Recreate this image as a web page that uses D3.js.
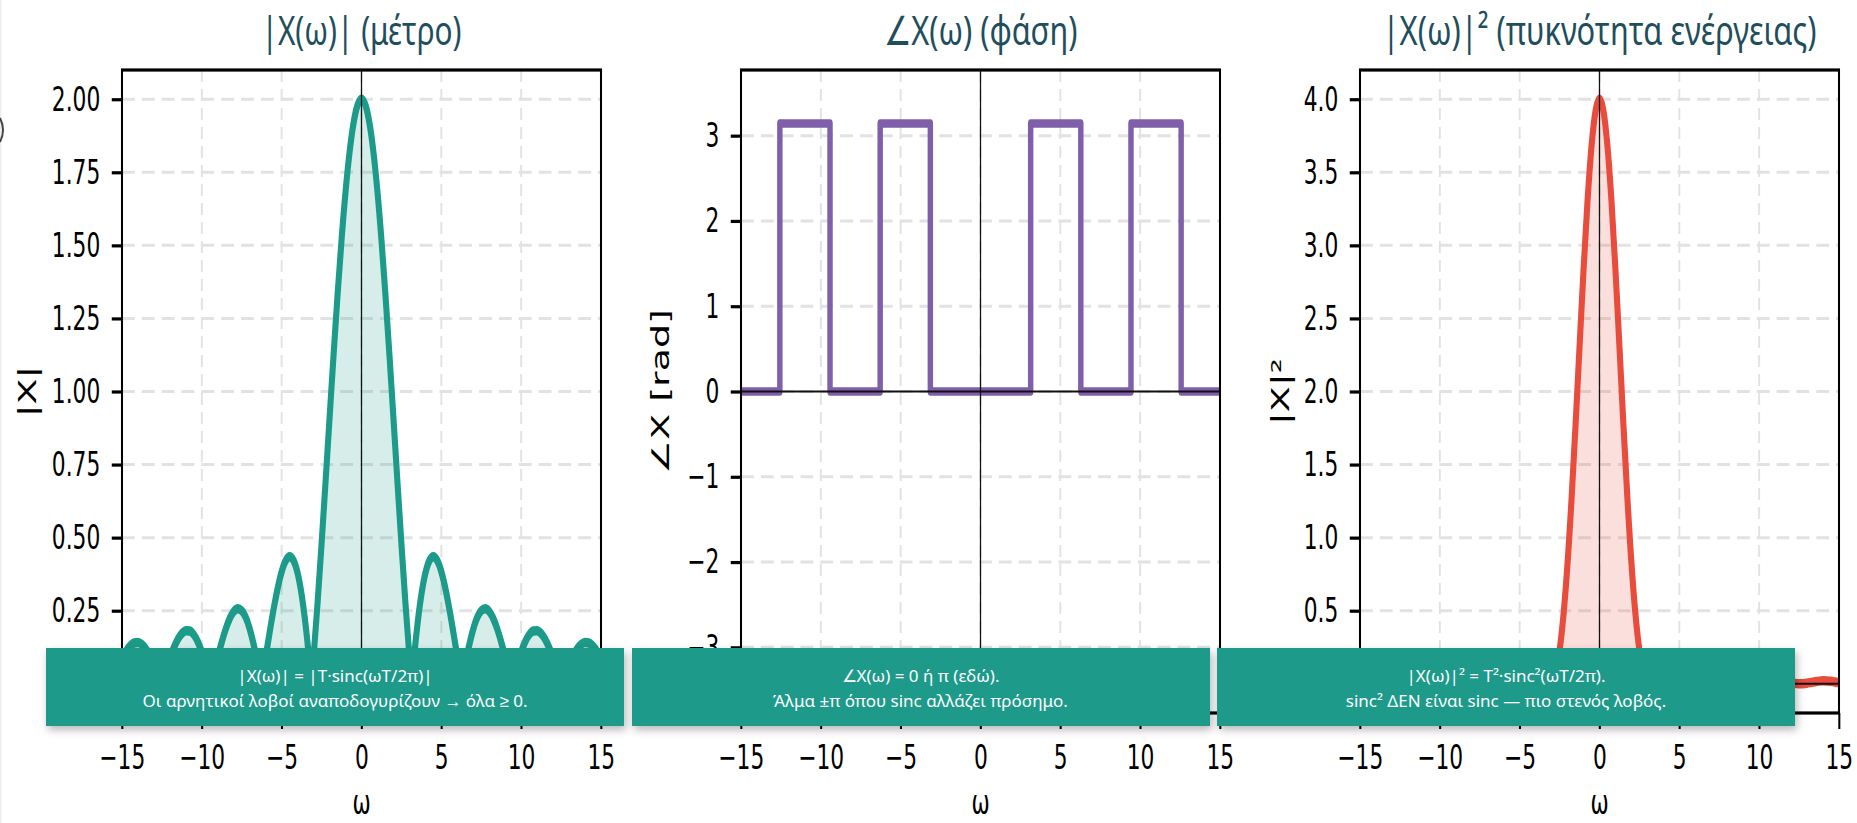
<!DOCTYPE html>
<html><head><meta charset="utf-8">
<script src="https://cdn.jsdelivr.net/npm/d3@7"></script>
<style>
html,body{margin:0;padding:0;background:#fff;width:1857px;height:823px;overflow:hidden;position:relative}
svg{position:absolute;left:0;top:0}
.note{position:absolute;top:648px;height:78px;width:578px;background:#1d9a8a;color:#fff;font-family:"Noto Sans",sans-serif;font-size:17px;line-height:25px;text-align:center;box-sizing:border-box;padding-top:15px;box-shadow:2px 4px 8px rgba(0,0,0,0.28);white-space:nowrap}
</style></head><body>
<svg id="chart" width="1857" height="823"></svg>
<script>
// ---------- data ----------
const omega = [-15,-14.75,-14.5,-14.25,-14,-13.75,-13.5,-13.25,-13,-12.75,-12.5664,-12.5,-12.25,-12,-11.75,-11.5,-11.25,-11,-10.75,-10.5,-10.25,-10,-9.75,-9.5,-9.4248,-9.25,-9,-8.75,-8.5,-8.25,-8,-7.75,-7.5,-7.25,-7,-6.75,-6.5,-6.2832,-6.25,-6,-5.75,-5.5,-5.25,-5,-4.75,-4.5,-4.25,-4,-3.75,-3.5,-3.25,-3.1416,-3,-2.75,-2.5,-2.25,-2,-1.75,-1.5,-1.25,-1,-0.75,-0.5,-0.25,
 0,0.25,0.5,0.75,1,1.25,1.5,1.75,2,2.25,2.5,2.75,3,3.1416,3.25,3.5,3.75,4,4.25,4.5,4.75,5,5.25,5.5,5.75,6,6.25,6.2832,6.5,6.75,7,7.25,7.5,7.75,8,8.25,8.5,8.75,9,9.25,9.4248,9.5,9.75,10,10.25,10.5,10.75,11,11.25,11.5,11.75,12,12.25,12.5,12.5664,12.75,13,13.25,13.5,13.75,14,14.25,14.5,14.75,15];
const magnitude = [0.0867,0.1109,0.1290,0.1395,0.1415,0.1347,0.1191,0.0953,0.0646,0.0286,0,0.0106,0.0508,0.0894,0.1240,0.1523,0.1721,0.1818,0.1805,0.1676,0.1434,0.1088,0.0655,0.0158,0,0.0376,0.0916,0.1428,0.1879,0.2237,0.2473,0.2567,0.2501,0.2271,0.1877,0.1333,0.0662,0,0.0106,0.0931,0.1768,0.2566,0.3272,0.3836,0.4208,0.4345,0.4212,0.3784,0.3048,0.2004,0.0666,0,0.0941,0.2776,0.4788,0.6916,0.9093,1.1246,1.3300,1.5184,1.6829,1.8177,1.9177,1.9792,
 2.0000,1.9792,1.9177,1.8177,1.6829,1.5184,1.3300,1.1246,0.9093,0.6916,0.4788,0.2776,0.0941,0,0.0666,0.2004,0.3048,0.3784,0.4212,0.4345,0.4208,0.3836,0.3272,0.2566,0.1768,0.0931,0.0106,0,0.0662,0.1333,0.1877,0.2271,0.2501,0.2567,0.2473,0.2237,0.1879,0.1428,0.0916,0.0376,0,0.0158,0.0655,0.1088,0.1434,0.1676,0.1805,0.1818,0.1721,0.1523,0.1240,0.0894,0.0508,0.0106,0,0.0286,0.0646,0.0953,0.1191,0.1347,0.1415,0.1395,0.1290,0.1109,0.0867];
const energy = [0.0075,0.0123,0.0166,0.0194,0.0200,0.0181,0.0142,0.0091,0.0042,0.0008,0,0.0001,0.0026,0.0080,0.0154,0.0232,0.0296,0.0331,0.0326,0.0281,0.0206,0.0118,0.0043,0.0003,0,0.0014,0.0084,0.0204,0.0353,0.0500,0.0612,0.0659,0.0626,0.0516,0.0352,0.0178,0.0044,0,0.0001,0.0087,0.0313,0.0658,0.1071,0.1471,0.1770,0.1888,0.1774,0.1432,0.0929,0.0402,0.0044,0,0.0089,0.0770,0.2292,0.4783,0.8268,1.2646,1.7689,2.3055,2.8323,3.3040,3.6776,3.9174,
 4.0000,3.9174,3.6776,3.3040,2.8323,2.3055,1.7689,1.2646,0.8268,0.4783,0.2292,0.0770,0.0089,0,0.0044,0.0402,0.0929,0.1432,0.1774,0.1888,0.1770,0.1471,0.1071,0.0658,0.0313,0.0087,0.0001,0,0.0044,0.0178,0.0352,0.0516,0.0626,0.0659,0.0612,0.0500,0.0353,0.0204,0.0084,0.0014,0,0.0003,0.0043,0.0118,0.0206,0.0281,0.0326,0.0331,0.0296,0.0232,0.0154,0.0080,0.0026,0.0001,0,0.0008,0.0042,0.0091,0.0142,0.0181,0.0200,0.0194,0.0166,0.0123,0.0075];
const phaseOmega = [-15,-12.5664,-9.4248,-6.2832,-3.1416,3.1416,6.2832,9.4248,12.5664,15];
const phaseRad   = [0,3.1416,0,3.1416,0,3.1416,0,3.1416,0,0];

const omegaTicks  = [-15,-10,-5,0,5,10,15];
const magTicks    = [0,0.25,0.5,0.75,1,1.25,1.5,1.75,2];
const phaseTicks  = [-3,-2,-1,0,1,2,3];
const energyTicks = [0,0.5,1,1.5,2,2.5,3,3.5,4];

const titles  = ["|X(ω)| (μέτρο)", "∠X(ω) (φάση)", "|X(ω)|² (πυκνότητα ενέργειας)"];
const titleWidths = [200, 194, 434];
const ylabels = ["|X|", "∠X [rad]", "|X|²"];
const noteLines = [
  ["|X(ω)| = |T·sinc(ωT/2π)|", "Οι αρνητικοί λοβοί αναποδογυρίζουν → όλα ≥ 0."],
  ["∠X(ω) = 0 ή π (εδώ).", "Άλμα ±π όπου sinc αλλάζει πρόσημο."],
  ["|X(ω)|² = T²·sinc²(ωT/2π).", "sinc² ΔΕΝ είναι sinc — πιο στενός λοβός."]
];

// ---------- drawing ----------
const S = 0.64;           // horizontal squeeze of the plotted figure
const TOP = 70, BOT = 713;
const svg = d3.select("#chart");
const root = svg.append("g").attr("transform", `scale(${S},1)`);

const tickFont = "DejaVu Sans";
const panels = [
  {yDom:[-0.1,2.1], ticks:magTicks, fmt:d3.format(".2f"), color:"#1c9b8a", vals:magnitude, off:94},
  {yDom:[-3.77,3.77], ticks:phaseTicks, fmt:d3.format("d"), color:"#7f5fa9", vals:null, off:80},
  {yDom:[-0.2,4.2], ticks:energyTicks, fmt:d3.format(".1f"), color:"#e74c3c", vals:energy, off:79}
];

panels.forEach((p,i)=>{
  const L = 122 + 619*i, R = 601 + 619*i;
  const x = d3.scaleLinear().domain([-15,15]).range([L/S, R/S]);
  const y = d3.scaleLinear().domain(p.yDom).range([BOT, TOP]);
  const g = root.append("g");
  const cid = "clip"+i;
  g.append("clipPath").attr("id",cid).append("rect")
    .attr("x",L/S).attr("y",TOP).attr("width",(R-L)/S).attr("height",BOT-TOP);

  // grid
  const grid = g.append("g").attr("stroke","#e2e2e2").attr("stroke-width",3).attr("fill","none");
  grid.selectAll("line.v").data(omegaTicks).join("line").attr("class","v")
    .attr("x1",d=>x(d)).attr("x2",d=>x(d)).attr("y1",TOP).attr("y2",BOT)
    .attr("stroke-dasharray","12,7");
  grid.selectAll("line.h").data(p.ticks).join("line").attr("class","h")
    .attr("x1",L/S).attr("x2",R/S).attr("y1",d=>y(d)).attr("y2",d=>y(d))
    .attr("stroke-dasharray","20,11");

  const plot = g.append("g").attr("clip-path",`url(#${cid})`);
  if (p.vals) {
    const pts = omega.map((w,k)=>[w,p.vals[k]]);
    const area = d3.area().x(d=>x(d[0])).y0(y(0)).y1(d=>y(d[1])).curve(d3.curveMonotoneX);
    const line = d3.line().x(d=>x(d[0])).y(d=>y(d[1])).curve(d3.curveMonotoneX);
    plot.append("path").attr("d",area(pts)).attr("fill",p.color).attr("fill-opacity",0.18);
    plot.append("path").attr("d",line(pts)).attr("fill","none").attr("stroke",p.color)
      .attr("stroke-width",9.5).attr("stroke-linejoin","round");
  } else {
    const pts = phaseOmega.map((w,k)=>[w,phaseRad[k]]);
    const line = d3.line().x(d=>x(d[0])).y(d=>y(d[1])).curve(d3.curveStepAfter);
    plot.append("path").attr("d",line(pts)).attr("fill","none").attr("stroke",p.color)
      .attr("stroke-width",8.5).attr("stroke-linejoin","round");
  }
  // zero lines
  g.append("line").attr("x1",x(0)).attr("x2",x(0)).attr("y1",TOP).attr("y2",BOT)
    .attr("stroke","#111").attr("stroke-width",2);
  g.append("line").attr("x1",L/S).attr("x2",R/S).attr("y1",y(0)).attr("y2",y(0))
    .attr("stroke","#111").attr("stroke-width",2.2);

  // axes
  const ax = g.append("g").attr("transform",`translate(0,${BOT})`)
    .call(d3.axisBottom(x).tickValues(omegaTicks).tickSize(16).tickPadding(16).tickFormat(d3.format("d")));
  const ay = g.append("g").attr("transform",`translate(${L/S},0)`)
    .call(d3.axisLeft(y).tickValues(p.ticks).tickSize(16).tickPadding(18).tickFormat(p.fmt));
  [ax,ay].forEach(a=>{
    a.select(".domain").remove();
    a.selectAll(".tick line").attr("stroke","#000").attr("stroke-width",3.2);
    a.selectAll(".tick text").attr("fill","#000").style("font-family",tickFont).style("font-size","34px");
  });

  // spines
  g.append("rect").attr("x",L/S).attr("y",TOP).attr("width",(R-L)/S).attr("height",BOT-TOP)
    .attr("fill","none").attr("stroke","#000").attr("stroke-width",3.2);

  // labels
  g.append("text").attr("transform",`translate(${(L-p.off)/S},${(TOP+BOT)/2}) rotate(-90)`)
    .attr("text-anchor","middle").attr("dominant-baseline","central")
    .style("font-family",tickFont).style("font-size","38px").attr("fill","#000").text(ylabels[i]);
  g.append("text").attr("x",(L+R)/2/S).attr("y",814).attr("text-anchor","middle")
    .style("font-family",tickFont).style("font-size","34px").attr("fill","#000").text("ω");

  // title (condensed to the measured width with a horizontal scale)
  const t = svg.append("text").attr("text-anchor","middle")
    .style("font-family","Noto Sans").style("font-size","40px").attr("fill","#1f4e5c").text(titles[i]);
  const nat = t.node().getComputedTextLength();
  t.attr("transform",`translate(${(L+R)/2},45) scale(${titleWidths[i]/nat},1)`);
});

// left-edge remnant
svg.append("line").attr("x1",0.7).attr("x2",0.7).attr("y1",0).attr("y2",823).attr("stroke","#eeeeee").attr("stroke-width",1.5);
svg.append("path").attr("d","M0,118 Q6,130 0,142").attr("fill","none").attr("stroke","#444").attr("stroke-width",2);

// annotation boxes
noteLines.forEach((ln,i)=>{
  d3.select("body").append("div").attr("class","note")
    .style("left",(46 + 585.5*i)+"px")
    .html(ln.map(t=>`<div>${t}</div>`).join(""));
});
</script>
</body></html>
